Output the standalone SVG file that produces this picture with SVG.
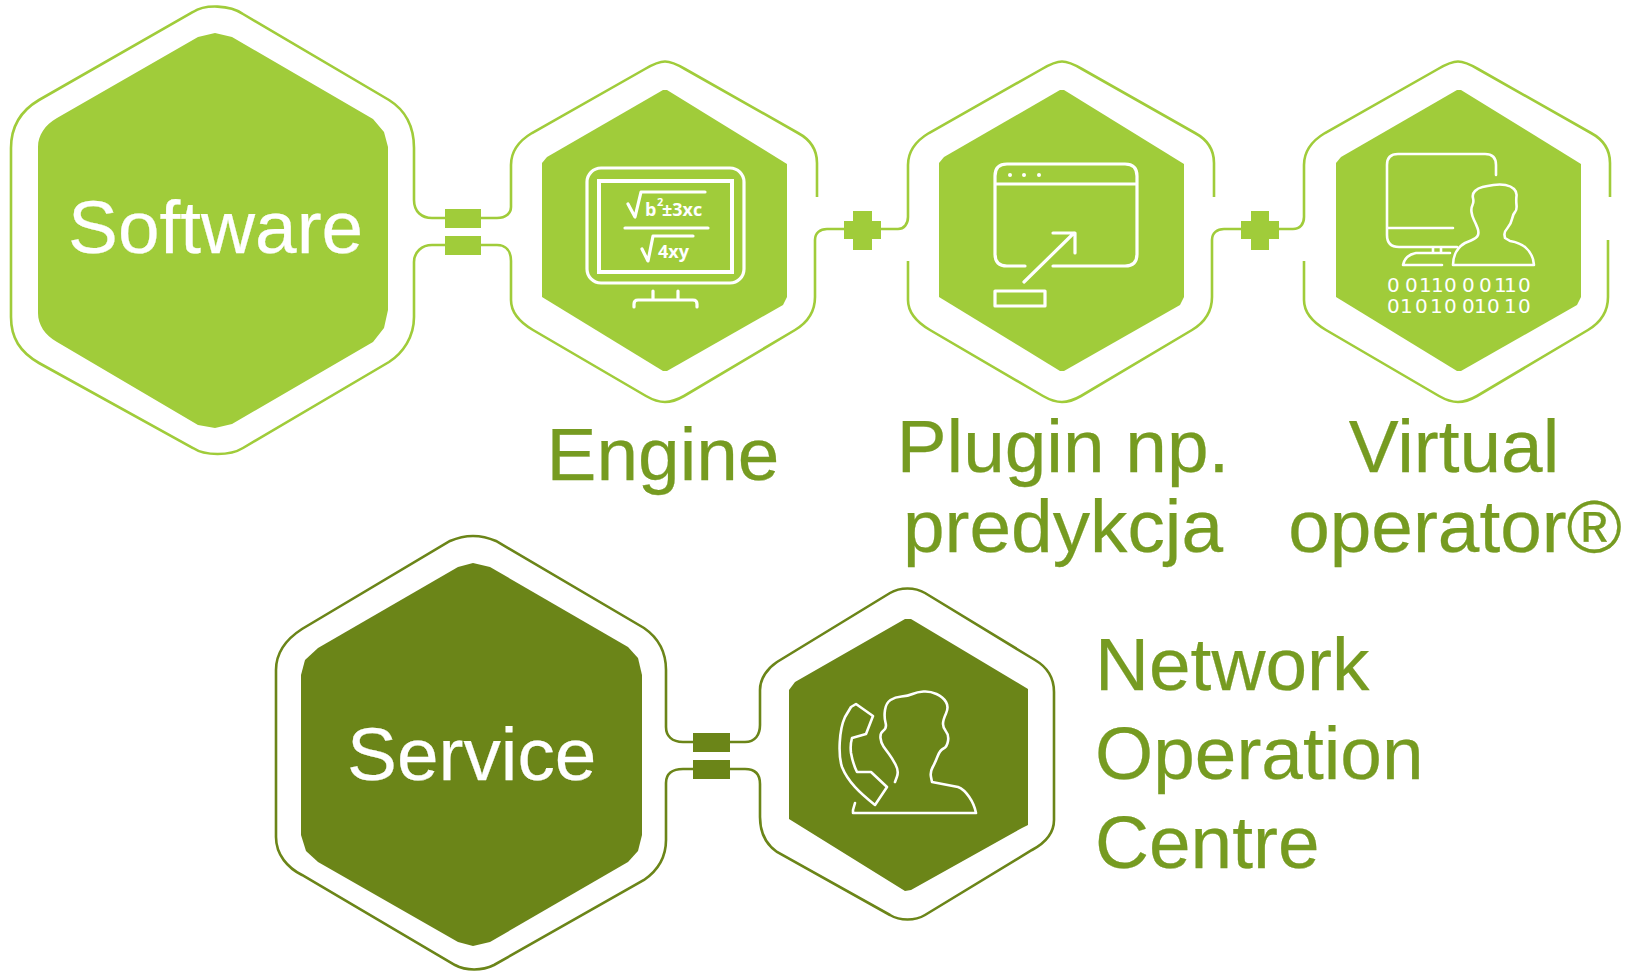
<svg xmlns="http://www.w3.org/2000/svg" width="1627" height="972" viewBox="0 0 1627 972">
<style>
text{font-family:"Liberation Sans",Arial,sans-serif}
.ln{fill:none;stroke:#A0CC3A;stroke-width:2.6}
.dn{fill:none;stroke:#6B8518;stroke-width:2.6}
.lf{fill:#A0CC3A}
.df{fill:#6B8518}
.ic{fill:none;stroke:#fff;stroke-width:3.2;stroke-linecap:round;stroke-linejoin:round}
.th{stroke-width:2.6}
.wt{fill:#fff;stroke:#fff;stroke-width:.25;font-size:74.8px}
.lb{fill:#769B21;stroke:#769B21;stroke-width:.25;font-size:74.8px}
.mid{text-anchor:middle}
.fm{fill:#fff;font-family:"Open Sans","Liberation Sans",sans-serif;font-weight:700;font-size:18px}
.bn{fill:#fff;font-family:"DejaVu Sans",sans-serif;font-size:20px}
</style>
<defs>
<path id="out" d="M817 197V163C817 150 811 140 798 133L685 69C668 59 662 59 645 69L532 133C517 142 511 152 511 165V207M511 261V300C511 310 516 320 533 330L646 396C660 404 670 404 684 396L795 330C810 321 815 310 815 297V240"/>
<path id="inn" d="M542 163L547 157L663 90H667L787 164V297L783 305L667 371H663L542 297Z"/>
</defs>
<g id="connectors">
<path class="ln" d="M414 200C414 212 422 218 432 218H445M481 218H497C506 218 511 213 511 207"/>
<path class="ln" d="M414 262C414 252 422 245 432 245H445M481 245H497C506 245 511 251 511 261"/>
<rect class="lf" x="445" y="209" width="36" height="19"/>
<rect class="lf" x="445" y="236" width="36" height="19"/>
<path class="ln" d="M815 240C815 233 820 229 827 229H844M881 229H898C904 229 908 224 908 217V207"/>
<path class="lf" d="M844 221H853V211H872V221H881V239H872V250H853V239H844Z"/>
<path class="ln" d="M1212 240C1212 233 1217 229 1224 229H1241M1279 229H1293C1300 229 1304 224 1304 217V207"/>
<path class="lf" d="M1241 221H1251V211H1269V221H1279V239H1269V250H1251V239H1241Z"/>
<path class="dn" d="M666 727C666 736 672 742 683 742H693M730 742H745C755 742 760 735 760 725"/>
<path class="dn" d="M666 783C666 774 672 769 683 769H693M730 769H745C755 769 760 774 760 784"/>
<rect class="df" x="693" y="733" width="37" height="19"/>
<rect class="df" x="693" y="760" width="37" height="19"/>
</g>
<g id="software">
<path class="ln" d="M414 200V148C414 125 405 110 389 100L243 14C230 5 205 4 193 12L39 100C22 110 11 125 11 148V317C11 338 20 352 39 363L193 448C205 456 230 456 243 448L389 362C403 353 414 337 414 317V262"/>
<path class="lf" d="M38 147C38 135 45 125 57 118L198 37L215 33L232 37L373 119L384 132L388 147V310L384 328L373 342L232 424L215 428L198 425L57 342C45 335 38 325 38 313Z"/>
<text class="wt" x="68" y="253">Software</text>
</g>
<g id="engine">
<use href="#out" class="ln"/>
<use href="#inn" class="lf"/>
<rect class="ic" x="587" y="168" width="157" height="115" rx="14"/>
<rect class="ic" style="stroke-width:4;stroke-linejoin:miter" x="599" y="181" width="133" height="91"/>
<path class="ic" d="M653 291V300M678 291V300M634 307V304Q634 300 638 300H693Q697 300 697 304V307"/>
<path class="ic" d="M705 192H641L635 217L628 204M625 228H708M693 236H653L648 261L642 249"/>
<text class="fm" x="645" y="216">b</text>
<text class="fm" x="657" y="206" style="font-size:11px">2</text>
<text class="fm" x="662" y="216">±3xc</text>
<text class="fm" x="658" y="258">4xy</text>
<text class="lb mid" x="663" y="480">Engine</text>
</g>
<g id="plugin">
<use href="#out" class="ln" transform="translate(397 0)"/>
<use href="#inn" class="lf" transform="translate(397 0)"/>
<path class="ic" d="M1025 266H1007Q995 266 995 254V176Q995 164 1007 164H1125Q1137 164 1137 176V254Q1137 266 1125 266H1053M995 184H1137M1024 282L1074 233M1053 233H1075V253"/>
<circle cx="1010" cy="175" r="2" fill="#fff"/><circle cx="1024" cy="175" r="2" fill="#fff"/><circle cx="1039" cy="175" r="2" fill="#fff"/>
<rect class="ic" x="995" y="291" width="50" height="15"/>
<text class="lb mid" x="1063" y="472">Plugin np.</text>
<text class="lb mid" x="1063" y="552">predykcja</text>
</g>
<g id="virtual">
<use href="#out" class="ln" transform="translate(793 0)"/>
<use href="#inn" class="lf" transform="translate(794 0)"/>
<path class="ic th" d="M1496 175V165Q1496 154 1485 154H1398Q1387 154 1387 165V235Q1387 247 1399 247H1457M1388 228H1453M1433 247V253M1441 247V253M1442 265H1403Q1405 255 1416 253H1450"/>
<path class="ic th" d="M1453 265H1534C1533 250 1522 243 1510 241L1505 238L1504.500 235Q1504 232 1507.500 228Q1511 224 1512 219Q1513 214 1515 212Q1517 210 1516.500 205Q1516 200 1516.500 196Q1517 192 1514 189Q1511 186 1505.500 185Q1500 184 1493.500 185Q1487 186 1482.500 187Q1478 188 1475 191Q1472 194 1473 198Q1474 202 1472.500 205Q1471 208 1471.500 212Q1472 216 1474 220Q1476 224 1477.500 228Q1479 232 1478 235Q1477 238 1471 240.500L1465 243C1458 247 1453 255 1453 265Z"/>
<text class="bn" x="1387 1405 1419 1431 1444 1462 1479 1494 1504 1518" y="292">0011000110</text>
<text class="bn" x="1387 1400 1415 1430 1444 1462 1474 1487 1504 1518" y="313">0101001010</text>
<text class="lb mid" x="1454" y="472">Virtual</text>
<text class="lb mid" x="1455" y="552">operator®</text>
</g>
<g id="service">
<path class="dn" d="M666 727V670C666 650 657 637 644 628L496 541C480 534 466 534 450 541L302 629C288 638 276 652 276 670V837C276 855 288 868 302 875L455 965C466 971 482 971 494 965L644 880C657 871 666 858 666 840V783"/>
<path class="df" d="M301 675L305 660L318 648L458 567L473 563L490 567L628 647L638 658L642 675V835L638 851L628 862L490 942L473 946L458 942L318 862L306 851L301 835Z"/>
<text class="wt" x="347" y="780">Service</text>
</g>
<g id="noc">
<path class="dn" d="M760 725V690C760 678 768 668 777 662L890 593C900 587 915 587 925 593L1035 660C1047 667 1054 678 1054 692V820C1054 833 1045 843 1032 850L925 915C915 921 900 921 890 915L777 852C767 845 760 833 760 817V784"/>
<path class="df" d="M789 690L795 682L905 619H911L1028 689V825L1022 828L911 890L905 891L789 819Z"/>
<path class="ic th" d="M856 704L873 716L866 734L852 738Q850 745 851 753Q853 764 857 772L871 772L887 787L875 805C860 793 848 782 842 767C838 755 839 730 845 717L851 707Z"/>
<path class="ic th" d="M895 782L897 776.500Q899 771 895.500 764.500Q892 758 889 754Q886 750 883.500 746.500Q881 743 880.500 738Q880 733 883.500 730.500Q887 728 885.500 722.500Q884 717 885 710Q886 703 890.500 700Q895 697 901.500 696.500Q908 696 912.500 694Q917 692 923.500 691.500Q930 691 936.500 694Q943 697 946 702Q949 707 946 713.500Q943 720 943 724Q943 728 946 731.500Q949 735 948 741Q947 747 943.500 748.500Q940 750 937.500 756.500Q935 763 932.500 767.500Q930 772 931 777L932 782L958 787C966 790 974 802 976 813H853V810L855 803"/>
<text class="lb" x="1095" y="690">Network</text>
<text class="lb" x="1095" y="779">Operation</text>
<text class="lb" x="1095" y="868">Centre</text>
</g>
</svg>
